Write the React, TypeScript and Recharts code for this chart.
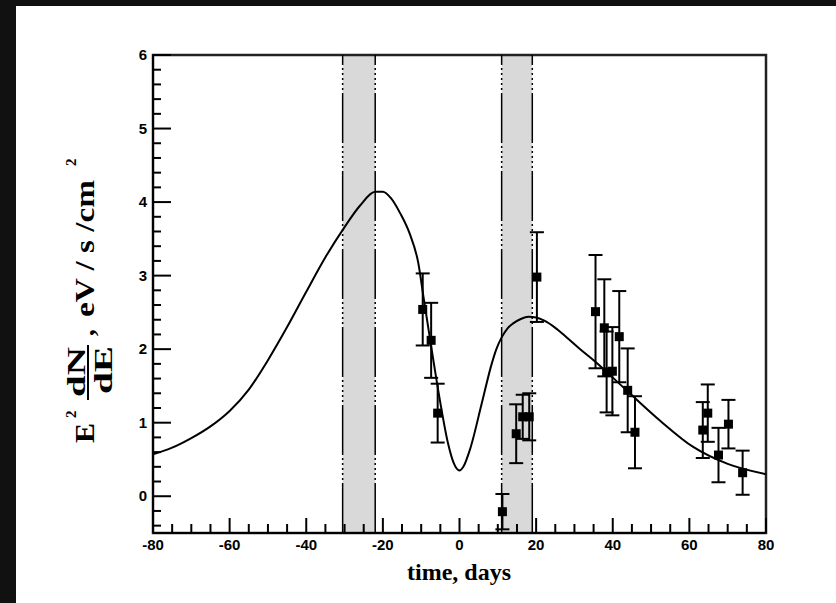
import {
  ComposedChart,
  Line,
  Scatter,
  ErrorBar,
  XAxis,
  YAxis,
  ReferenceArea,
  ReferenceLine,
} from 'recharts';

// model curve
const curveDays = [
  -80, -75, -70, -65, -60, -55, -50, -45, -40, -35, -30, -26, -22, -20, -18,
  -15.5, -13, -10.75, -9.4, -7.25, -5, -3, -1.5, 0, 1, 2.7, 5.8, 8.4, 9.7, 11,
  12.5, 14, 16, 18, 20, 22, 25, 28, 31.5, 35, 43.6, 52.3, 61, 70, 80,
];
const curveValues = [
  0.57, 0.66, 0.79, 0.95, 1.16, 1.45, 1.85, 2.3, 2.78, 3.25, 3.66, 3.95, 4.14,
  4.14, 4.06, 3.85, 3.57, 3.17, 2.71, 1.99, 1.27, 0.72, 0.45, 0.35, 0.4, 0.63,
  1.26, 1.8, 2.01, 2.16, 2.28, 2.35, 2.41, 2.44, 2.43, 2.39, 2.29, 2.16, 2.0,
  1.85, 1.44, 1.03, 0.67, 0.44, 0.3,
];

// measured points
const pointDays = [
  -9.6, -7.4, -5.7, 11.2, 14.8, 16.5, 18.2, 20.2, 35.5, 37.8, 38.4, 39.9, 41.7,
  43.9, 45.8, 63.5, 64.8, 67.6, 70.2, 73.9,
];
const pointValues = [
  2.54, 2.12, 1.13, -0.21, 0.85, 1.08, 1.08, 2.98, 2.51, 2.29, 1.69, 1.7, 2.17,
  1.44, 0.87, 0.9, 1.13, 0.56, 0.98, 0.32,
];
const pointErrors = [
  0.49, 0.51, 0.4, 0.24, 0.4, 0.3, 0.32, 0.61, 0.77, 0.66, 0.55, 0.6, 0.62,
  0.57, 0.49, 0.38, 0.39, 0.37, 0.33, 0.3,
];

// shaded intervals
const bandStarts = [-30.5, 11];
const bandEnds = [-22, 19];

const xTickLabels = [-80, -60, -40, -20, 0, 20, 40, 60, 80];
const yTickLabels = [0, 1, 2, 3, 4, 5, 6];

const xTicks: number[] = [];
for (let v = -80; v <= 80; v += 5) xTicks.push(v);
const yTicks: number[] = [];
for (let i = -2; i <= 30; i++) yTicks.push(Math.round(i * 20) / 100);

const curveData = curveDays.map((x, i) => ({ x, y: curveValues[i] }));
const pointData = pointDays.map((x, i) => ({
  x,
  y: pointValues[i],
  err: pointErrors[i],
}));

const tickFont = '"Liberation Sans Narrow", "Liberation Sans", Arial, sans-serif';
const titleFont = '"Liberation Serif", "Times New Roman", serif';

const renderXTick = (props: any) => {
  const { x, y, payload } = props;
  const major = xTickLabels.includes(payload.value);
  return (
    <g key={'xt' + payload.value}>
      <line x1={x} x2={x} y1={y} y2={y - (major ? 15 : 9)} stroke="#000" strokeWidth={2} />
      {major && (
        <text x={x} y={y + 17} textAnchor="middle" fontFamily={tickFont} fontWeight="bold" fontSize={15} fill="#000">
          {payload.value}
        </text>
      )}
    </g>
  );
};

const renderYTick = (props: any) => {
  const { x, y, payload } = props;
  const major = yTickLabels.includes(payload.value);
  return (
    <g key={'yt' + payload.value}>
      <line x1={x} x2={x + (major ? 18 : 8)} y1={y} y2={y} stroke="#000" strokeWidth={2} />
      {major && (
        <text x={x - 6} y={y + 5} textAnchor="end" fontFamily={tickFont} fontWeight="bold" fontSize={15} fill="#000">
          {payload.value}
        </text>
      )}
    </g>
  );
};

function Square(props: any) {
  const { cx, cy } = props;
  return <rect x={cx - 4.5} y={cy - 4.5} width={9} height={9} fill="#000" />;
}

export default function App() {
  return (
    <div style={{ position: 'absolute', left: 0, top: 0, width: 836, height: 603, background: '#111' }}>
      <div style={{ position: 'absolute', left: 16, top: 6, width: 820, height: 597, background: '#fff' }} />
      <div style={{ position: 'absolute', left: 0, top: 0 }}>
        <ComposedChart
          width={836}
          height={603}
          margin={{ top: 55, right: 70, bottom: 30, left: 103 }}
        >
          <XAxis
            dataKey="x"
            type="number"
            domain={[-80, 80]}
            ticks={xTicks}
            interval={0}
            height={40}
            tickSize={0}
            tickMargin={0}
            tickLine={false}
            tick={renderXTick}
            axisLine={{ stroke: '#000', strokeWidth: 2 }}
            allowDataOverflow
          />
          <YAxis
            type="number"
            domain={[-0.5, 6]}
            ticks={yTicks}
            interval={0}
            width={50}
            tickSize={0}
            tickMargin={0}
            tickLine={false}
            tick={renderYTick}
            axisLine={{ stroke: '#000', strokeWidth: 2 }}
            allowDataOverflow
          />
          {bandStarts.map((s, i) => (
            <ReferenceArea key={'a' + i} x1={s} x2={bandEnds[i]} y1={-0.5} y2={6} fill="#d9d9d9" fillOpacity={1} stroke="none" />
          ))}
          {[...bandStarts, ...bandEnds].map((v, i) => (
            <ReferenceLine
              key={'l' + i}
              x={v}
              stroke="#000"
              strokeWidth={1.5}
              strokeDasharray="50 3 2 3 2 3 2 3 2 3 2 3"
            />
          ))}
          <ReferenceArea x1={-80} x2={80} y1={-0.5} y2={6} fill="none" stroke="#222" strokeWidth={2.5} />
          <Line
            data={curveData}
            dataKey="y"
            type="monotone"
            stroke="#000"
            strokeWidth={2}
            dot={false}
            isAnimationActive={false}
          />
          <Scatter data={pointData} dataKey="y" shape={<Square />} fill="#000" isAnimationActive={false}>
            <ErrorBar dataKey="err" direction="y" width={7} stroke="#000" strokeWidth={2} />
          </Scatter>
        </ComposedChart>
      </div>
      <svg width={836} height={603} style={{ position: 'absolute', left: 0, top: 0, pointerEvents: 'none' }}>
        <text x={459} y={580} textAnchor="middle" fontFamily={titleFont} fontWeight="bold" fontSize={24} fill="#000">
          time, days
        </text>
        <g transform="rotate(-90)" fontFamily={titleFont} fontWeight="bold" fill="#000">
          <text x={-443} y={94} fontSize={27} textLength={20} lengthAdjust="spacingAndGlyphs">E</text>
          <text x={-418} y={76} fontSize={15}>2</text>
          <text x={-397} y={85} fontSize={26} textLength={50} lengthAdjust="spacingAndGlyphs">dN</text>
          <line x1={-400} x2={-345} y1={88} y2={88} stroke="#000" strokeWidth={2} />
          <text x={-394} y={112} fontSize={26} textLength={48} lengthAdjust="spacingAndGlyphs">dE</text>
          <text x={-336} y={94} fontSize={27}>,</text>
          <text x={-317} y={94} fontSize={27} textLength={137} lengthAdjust="spacingAndGlyphs">eV / s /cm</text>
          <text x={-166} y={76} fontSize={15}>2</text>
        </g>
      </svg>
    </div>
  );
}
